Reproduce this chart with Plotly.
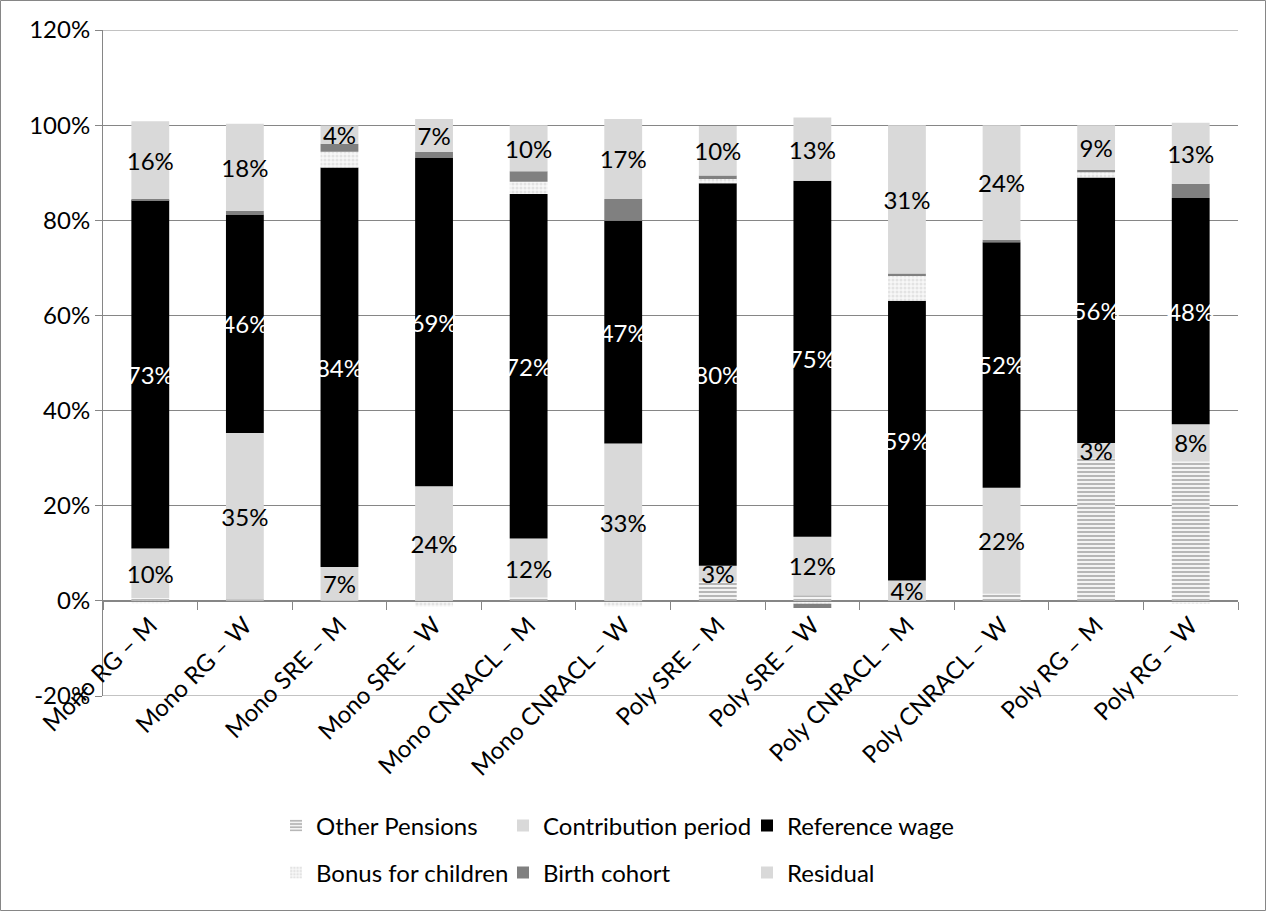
import plotly.graph_objects as go

categories = ["Mono RG – M", "Mono RG – W", "Mono SRE – M", "Mono SRE – W",
              "Mono CNRACL – M", "Mono CNRACL – W", "Poly SRE – M", "Poly SRE – W",
              "Poly CNRACL – M", "Poly CNRACL – W", "Poly RG – M", "Poly RG – W"]

other_pensions = [0.6, 0.3, 0.0, 0.0, 0.7, 0.0, 4.0, 1.2, 0.0, 1.5, 29.9, 29.3]
contribution_period = [10.4, 35.0, 7.1, 24.1, 12.4, 33.1, 3.4, 12.3, 4.3, 22.3, 3.3, 7.8]
reference_wage = [73.2, 45.9, 84.0, 69.0, 72.4, 46.8, 80.4, 74.8, 58.8, 51.6, 55.8, 47.6]
bonus_children = [-0.5, 0.0, 3.3, -1.2, 2.6, -1.2, 0.9, -0.6, 5.2, 0.0, 1.1, -0.6]
birth_cohort = [0.3, 0.8, 1.7, 1.3, 2.2, 4.6, 0.7, -0.9, 0.5, 0.5, 0.5, 3.0]
residual = [16.3, 18.3, 3.8, 6.9, 9.7, 16.8, 10.4, 13.3, 31.2, 24.1, 9.4, 12.8]

y_ticks = [-20, 0, 20, 40, 60, 80, 100, 120]
y_tick_text = ["-20%", "0%", "20%", "40%", "60%", "80%", "100%", "120%"]

FONT = "Lato"
FS = 24
GRID = "#868686"

fig = go.Figure()

def add(name, vals, color, legend, pattern=None, text=False, textcolor="black"):
    marker = dict(color=color, line=dict(width=0))
    if pattern:
        marker["pattern"] = pattern
    kw = {}
    if text:
        kw = dict(texttemplate="%{y:.0f}%", textposition="inside", textangle=0,
                  insidetextanchor="middle", constraintext="none",
                  insidetextfont=dict(family=FONT, size=FS, color=textcolor))
    fig.add_trace(go.Bar(name=name, x=categories, y=vals, marker=marker,
                         width=0.4, legend=legend, hoverinfo="skip", **kw))

add("Other Pensions", other_pensions, "#ffffff", "legend",
    pattern=dict(shape="-", fgcolor="#7a7a7a", bgcolor="#f4f4f4", size=4, solidity=0.5))
add("Contribution period", contribution_period, "#d9d9d9", "legend2", text=True)
add("Reference wage", reference_wage, "#000000", "legend3", text=True, textcolor="white")
add("Bonus for children", bonus_children, "#f7f7f7", "legend4",
    pattern=dict(shape=".", fgcolor="#cfcfcf", bgcolor="#f7f7f7", size=4, solidity=0.45))
add("Birth cohort", birth_cohort, "#808080", "legend5")
add("Residual", residual, "#d9d9d9", "legend6", text=True)

L, R, T, B = 103, 28, 30, 215
W, H = 1266, 911
pw = W - L - R
ph = H - T - B

def px_x(x):
    return (x - L) / pw

def px_y(y):
    return (H - B - y) / ph

leg_common = dict(orientation="h", xanchor="left", yanchor="middle",
                  bgcolor="rgba(0,0,0,0)", font=dict(family=FONT, size=FS, color="black"),
                  traceorder="normal")
row1, row2 = 826, 873
col_text = [316, 543, 787]
legends = {}
names = ["legend", "legend2", "legend3", "legend4", "legend5", "legend6"]
for i, nm in enumerate(names):
    col = col_text[i % 3]
    row = row1 if i < 3 else row2
    legends[nm] = dict(leg_common, x=px_x(col - 40), y=px_y(row))

shapes = [dict(type="rect", xref="paper", yref="paper",
               x0=px_x(0.5), x1=px_x(W - 0.5), y0=px_y(H - 0.5), y1=px_y(0.5),
               line=dict(color=GRID, width=1), fillcolor="rgba(0,0,0,0)", layer="below")]
for yv in (y_ticks[0], y_ticks[-1]):
    shapes.append(dict(type="line", xref="paper", yref="y", x0=0, x1=1, y0=yv, y1=yv,
                       line=dict(color=GRID, width=1), layer="below"))

fig.update_layout(
    width=W, height=H,
    margin=dict(l=L, r=R, t=T, b=B, autoexpand=False),
    barmode="relative",
    paper_bgcolor="white", plot_bgcolor="white",
    font=dict(family=FONT, size=FS, color="black"),
    showlegend=True,
    **legends,
    xaxis=dict(anchor="free", position=20 / 140, tickangle=-45,
               tickson="boundaries", ticks="outside", ticklen=8, tickcolor=GRID,
               showline=True, linecolor=GRID, linewidth=1, showgrid=False,
               tickfont=dict(family=FONT, size=FS, color="black"), automargin=False),
    yaxis=dict(range=[-20, 120], tickmode="array", tickvals=y_ticks, ticktext=y_tick_text,
               showline=True, linecolor=GRID, linewidth=1,
               ticks="outside", ticklen=7, tickcolor=GRID,
               showgrid=True, gridcolor=GRID, gridwidth=1, zeroline=False,
               tickfont=dict(family=FONT, size=FS, color="black"), automargin=False),
    shapes=shapes,
)

fig.write_html("out.html", config={"displayModeBar": False},
               post_script="document.body.style.margin='0';")
